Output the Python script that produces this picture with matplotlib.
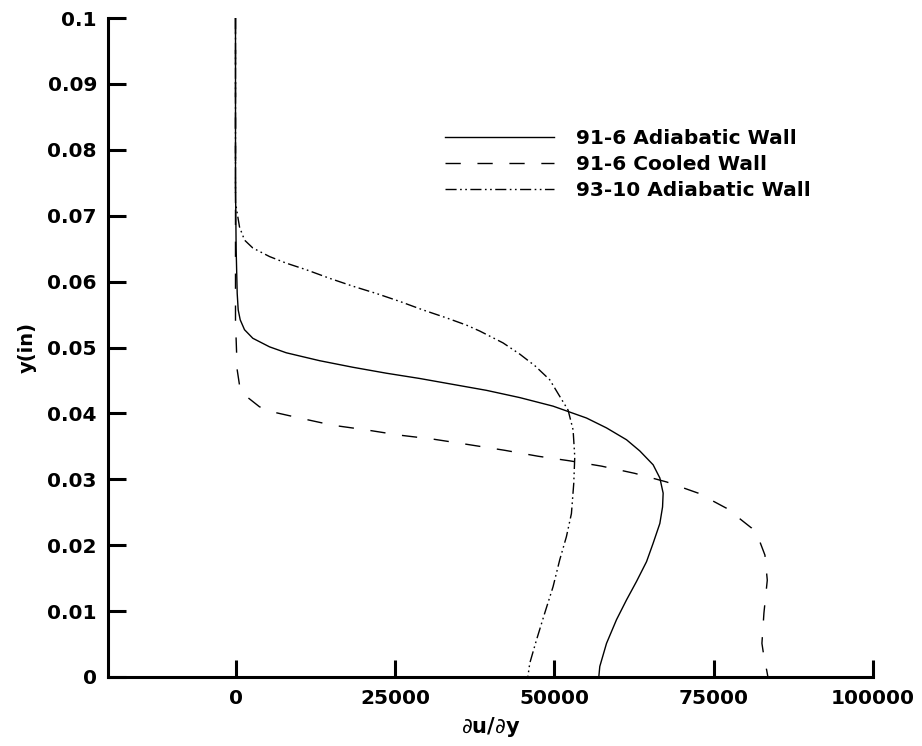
import matplotlib
matplotlib.use("Agg")
import matplotlib.pyplot as plt

plt.rcParams['font.family'] = ['DejaVu Sans']
plt.rcParams['mathtext.fontset'] = 'dejavusans'

# Velocity-gradient profiles: du/dy versus wall distance y (in)
adiabatic_91_dudy = [0, 0, 100, 267, 424, 738, 1413, 2716, 5338, 7959, 10566, 13187,
                     18415, 23658, 28886, 34113, 39357, 44585, 49813, 55056, 58196,
                     61336, 63424, 65512, 66564, 67082, 66988, 66564, 65512, 64475,
                     62905, 61336, 59766, 58196, 57144, 56987]
adiabatic_91_y = [0.100, 0.075, 0.065, 0.0582, 0.0557, 0.0542, 0.0527, 0.0514, 0.0501,
                  0.0492, 0.0486, 0.0480, 0.0470, 0.0461, 0.0453, 0.0444, 0.0435,
                  0.0424, 0.0411, 0.0393, 0.0378, 0.0360, 0.0343, 0.0322, 0.0302,
                  0.0279, 0.0258, 0.0233, 0.0203, 0.0175, 0.0145, 0.0117, 0.0087,
                  0.0051, 0.0016, 0.0]

cooled_91_dudy = [0, 0, 267, 628, 1413, 3768, 6385, 10047, 15275, 20502, 25746,
                  30974, 35685, 42231, 47460, 52434, 57405, 62640, 67613, 72580,
                  77033, 80960, 82263, 83047, 83417, 82890, 82577, 83047, 83309,
                  83518]
cooled_91_y = [0.100, 0.0540, 0.0466, 0.0443, 0.0428, 0.0410, 0.0401, 0.0393, 0.0382,
               0.0375, 0.0367, 0.0361, 0.0354, 0.0344, 0.0335, 0.0328, 0.0320, 0.0309,
               0.0296, 0.0279, 0.0256, 0.0226, 0.0205, 0.0185, 0.0147, 0.0097, 0.0051,
               0.0021, 0.0011, 0.0]

adiabatic_93_dudy = [0, 0, 267, 628, 1413, 2716, 5338, 7959, 11099, 14757, 18415,
                     22088, 25746, 29406, 33077, 36220, 38305, 41963, 44585, 47000,
                     49295, 50603, 52171, 52956, 53218, 53061, 52694, 51909, 50865,
                     49813, 48508, 47207, 46161, 45900, 45850]
adiabatic_93_y = [0.100, 0.0720, 0.0704, 0.0683, 0.0663, 0.0651, 0.0638, 0.0628,
                  0.0618, 0.0605, 0.0593, 0.0582, 0.0570, 0.0557, 0.0545, 0.0534,
                  0.0525, 0.0507, 0.0490, 0.0472, 0.0451, 0.0430, 0.0405, 0.0375,
                  0.0334, 0.0294, 0.0248, 0.0213, 0.0178, 0.0137, 0.0097, 0.0056,
                  0.0021, 0.0003, 0.0]

series_labels = ['91-6 Adiabatic Wall', '91-6 Cooled Wall', '93-10 Adiabatic Wall']

x_ticks = [0, 25000, 50000, 75000, 100000]
y_ticks = [0, 0.01, 0.02, 0.03, 0.04, 0.05, 0.06, 0.07, 0.08, 0.09, 0.1]
y_tick_labels = ['0', '0.01', '0.02', '0.03', '0.04', '0.05', '0.06', '0.07',
                 '0.08', '0.09', '0.1']

fig = plt.figure(figsize=(9.22, 7.46), dpi=100)
ax = fig.add_axes([108 / 922, 1 - 677 / 746, (873 - 108) / 922, (677 - 18) / 746])

lw = 1.0
ax.plot(adiabatic_91_dudy, adiabatic_91_y, color='black', lw=lw, linestyle='-',
        label=series_labels[0])
ax.plot(cooled_91_dudy, cooled_91_y, color='black', lw=lw,
        linestyle=(0, (11, 12)), label=series_labels[1])
ax.plot(adiabatic_93_dudy, adiabatic_93_y, color='black', lw=lw,
        linestyle=(0, (8, 2.5, 1.2, 2.5, 1.2, 2.5)), label=series_labels[2])

ax.set_xlim(-20000, 100000)
ax.set_ylim(0, 0.1)

for side in ('top', 'right'):
    ax.spines[side].set_visible(False)
for side in ('left', 'bottom'):
    ax.spines[side].set_linewidth(2.2)

ax.set_xticks(x_ticks)
ax.set_xticklabels([str(v) for v in x_ticks])
ax.set_yticks(y_ticks)
ax.set_yticklabels(y_tick_labels)
ax.tick_params(axis='x', direction='in', length=12, width=2.2, pad=9,
               labelsize=14.5)
ax.tick_params(axis='y', direction='in', length=13, width=2.2, pad=8,
               labelsize=14.5)
for lbl in ax.get_xticklabels() + ax.get_yticklabels():
    lbl.set_fontweight('bold')

ax.set_xlabel(r'$\partial\mathbf{u/}\partial\mathbf{y}$', fontsize=15, labelpad=5)
ax.set_ylabel('y(in)', fontsize=14, fontweight='bold', labelpad=8)

leg = ax.legend(loc='upper left', bbox_to_anchor=(445 / 922, 1 - 129 / 746),
                bbox_transform=fig.transFigure, frameon=False,
                handlelength=5.4, handletextpad=1.1, labelspacing=0.36,
                borderpad=0, borderaxespad=0,
                prop={'size': 14.5, 'weight': 'bold'})

fig.savefig('out.png', dpi=100)
